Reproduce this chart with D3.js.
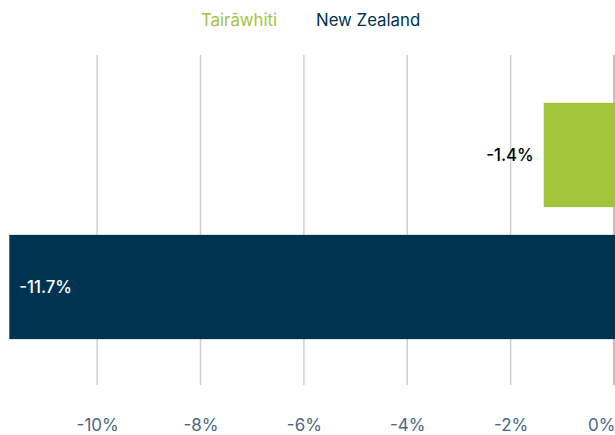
<!DOCTYPE html>
<html>
<head>
<meta charset="utf-8">
<script src="https://cdn.jsdelivr.net/npm/d3@7"></script>
<style>
  body { margin: 0; background: #fff; }
  svg { display: block; font-family: Inter, "Noto Sans", sans-serif; }
</style>
</head>
<body>
<svg id="chart"></svg>
<script>
    "use strict";

    var regions = ["Tairāwhiti", "New Zealand"];
    var values = [-1.36, -11.7];
    var colors = ["#a2c43a", "#00334f"];
    var tickValues = [-10, -8, -6, -4, -2, 0];

    var width = 615, height = 435;

    var svg = d3.select("#chart")
        .attr("width", width)
        .attr("height", height);

    var x = d3.scaleLinear()
        .domain([-11.88, 0])
        .range([0, 614]);

    var y = d3.scaleBand()
        .domain(regions)
        .range([56, 386])
        .paddingInner(0.21)
        .paddingOuter(0.355);

    // legend
    var legendX = [201, 316];
    svg.selectAll(".legend")
        .data(regions)
        .enter().append("text")
        .attr("class", "legend")
        .attr("x", function(d, i) { return legendX[i]; })
        .attr("y", 26)
        .attr("font-size", 16.8)
        .attr("fill", function(d, i) { return colors[i]; })
        .text(function(d) { return d; });

    // grid lines
    svg.selectAll(".grid")
        .data(tickValues)
        .enter().append("line")
        .attr("class", "grid")
        .attr("x1", function(d) { return x(d); })
        .attr("x2", function(d) { return x(d); })
        .attr("y1", 55)
        .attr("y2", 385)
        .attr("stroke", function(d) { return d === 0 ? "#a9adb3" : "#ccd0d5"; })
        .attr("stroke-width", 1.5);

    // axis labels
    var axis = d3.axisBottom(x)
        .tickValues(tickValues)
        .tickSize(0)
        .tickPadding(0)
        .tickFormat(function(d) { return d + "%"; });

    var ax = svg.append("g")
        .attr("transform", "translate(0,419)")
        .call(axis);
    ax.select(".domain").remove();
    ax.selectAll("text")
        .attr("font-size", 17)
        .attr("font-family", "Inter, 'Noto Sans', sans-serif")
        .attr("fill", "#4a6886");
    ax.selectAll(".tick").filter(function(d) { return d === 0; })
        .select("text").attr("text-anchor", "end").attr("dx", 1);

    // bars
    svg.selectAll(".bar")
        .data(values)
        .enter().append("rect")
        .attr("class", "bar")
        .attr("x", function(d) { return x(d); })
        .attr("y", function(d, i) { return y(regions[i]); })
        .attr("width", function(d) { return x(0) + 1 - x(d); })
        .attr("height", y.bandwidth())
        .attr("fill", function(d, i) { return colors[i]; });

    // value labels: outside for short bars, inside for long ones
    svg.selectAll(".value")
        .data(values)
        .enter().append("text")
        .attr("class", "value")
        .attr("x", function(d) { return d > -3 ? x(d) - 10 : x(d) + 10; })
        .attr("y", function(d, i) { return y(regions[i]) + y.bandwidth() / 2; })
        .attr("dy", "0.35em")
        .attr("text-anchor", function(d) { return d > -3 ? "end" : "start"; })
        .attr("font-size", 16.8)
        .attr("font-weight", 500)
        .attr("fill", function(d) { return d > -3 ? "#000" : "#fff"; })
        .text(function(d) { return d.toFixed(1) + "%"; });
</script>
</body>
</html>
